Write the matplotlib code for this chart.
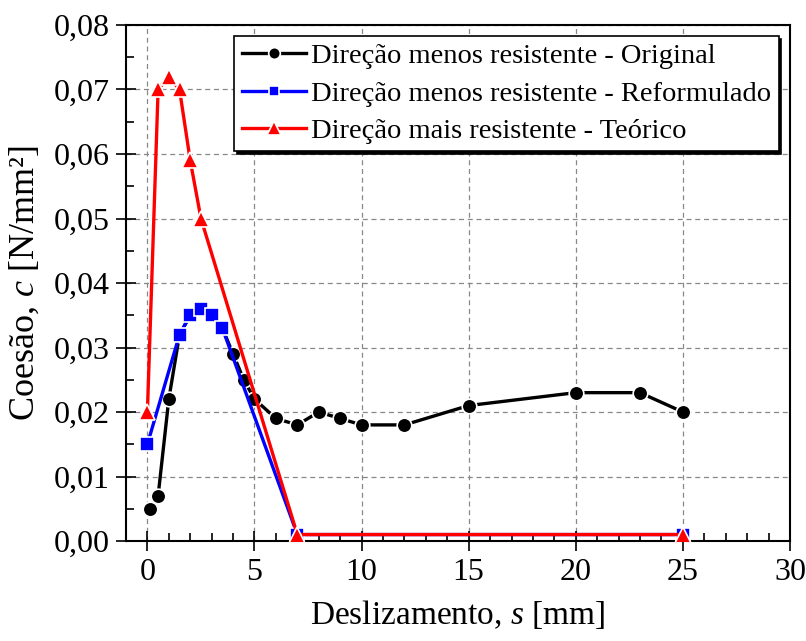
import numpy as np
import matplotlib
matplotlib.use("Agg")
import matplotlib.pyplot as plt
from matplotlib.ticker import MultipleLocator, FuncFormatter

# =========================
# DATA
# =========================
s_orig = [0.1, 0.5, 1, 1.5, 2, 2.5, 3, 3.5, 4, 4.5, 5, 6, 7, 8, 9, 10, 12, 15, 20, 23, 25]
c_orig = [0.005, 0.007, 0.022, 0.032, 0.035, 0.036, 0.035, 0.033, 0.029, 0.025, 0.022,
          0.019, 0.018, 0.020, 0.019, 0.018, 0.018, 0.021, 0.023, 0.023, 0.020]

s_ref = [0, 1.5, 2, 2.5, 3, 3.5, 7, 25]
c_ref = [0.015, 0.032, 0.035, 0.036, 0.035, 0.033, 0.001, 0.001]

s_teo = [0, 0.5, 1, 1.5, 2, 2.5, 7, 25]
c_teo = [0.020, 0.070, 0.072, 0.070, 0.059, 0.050, 0.001, 0.001]

labels = ["Direção menos resistente - Original",
          "Direção menos resistente - Reformulado",
          "Direção mais resistente - Teórico"]

# =========================
# STYLE
# =========================
plt.rcParams['font.family'] = ['Liberation Serif', 'DejaVu Serif']
plt.rcParams['mathtext.fontset'] = 'custom'
plt.rcParams['mathtext.rm'] = 'Liberation Serif'
plt.rcParams['mathtext.it'] = 'Liberation Serif:italic'

fig = plt.figure(figsize=(8.06, 6.41), dpi=100)
ax = fig.add_axes([0.1563, 0.156, 0.8238, 0.805])

kw = dict(lw=2.4, markeredgecolor='white', markeredgewidth=1.2)
ax.plot(s_orig, c_orig, color='black', marker='o', markersize=10.5,
        label=labels[0], zorder=3, **kw)
ax.plot(s_ref, c_ref, color='blue', marker='s', markersize=9.5,
        label=labels[1], zorder=4, **kw)
ax.plot(s_teo, c_teo, color='red', marker='^', markersize=12,
        label=labels[2], zorder=5, **kw)

# =========================
# AXES
# =========================
ax.set_xlim(-1, 30)
ax.set_ylim(0, 0.08)
ax.xaxis.set_major_locator(MultipleLocator(5))
ax.xaxis.set_minor_locator(MultipleLocator(1))
ax.yaxis.set_major_locator(MultipleLocator(0.01))
ax.yaxis.set_minor_locator(MultipleLocator(0.005))
ax.yaxis.set_major_formatter(FuncFormatter(lambda v, p: f"{v:.2f}".replace('.', ',')))

ax.tick_params(which='major', direction='inout', length=14, width=1.2, labelsize=23,
               top=False, right=False, pad=5)
ax.tick_params(which='minor', direction='in', length=6, width=1.2, top=False, right=False)
for sp in ax.spines.values():
    sp.set_linewidth(1.5)

ax.grid(True, which='major', linestyle=(0, (4, 3)), color='#888888', lw=0.9)
ax.set_axisbelow(True)

ax.set_xlabel("Deslizamento, $s$ [mm]", fontsize=24, labelpad=8)
ax.set_ylabel("Coesão, $c$ [N/mm²]", fontsize=26, labelpad=8)

# legend with solid black drop shadow
leg = ax.legend(loc='upper right', fontsize=20.5, frameon=True, fancybox=False,
                shadow={'color': 'black', 'alpha': 1}, edgecolor='black',
                framealpha=1, handlelength=2.25, handletextpad=0.2,
                borderpad=0.25, labelspacing=0.4, borderaxespad=0.4,
                markerscale=0.8)
leg.get_frame().set_linewidth(1.2)

fig.savefig("out.png", dpi=100)
